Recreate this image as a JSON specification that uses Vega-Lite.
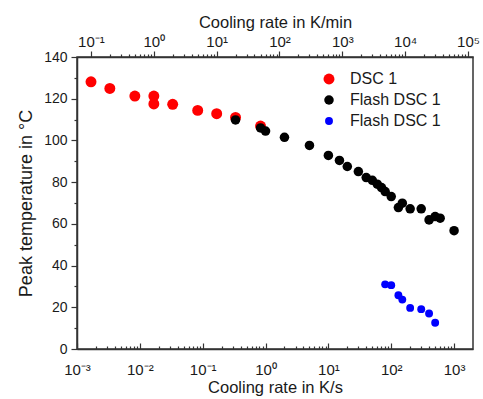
{
  "$schema": "https://vega.github.io/schema/vega-lite/v6.json",
  "width": 396,
  "height": 292,
  "autosize": {"type": "none"},
  "padding": {"left": 77, "top": 57, "right": 10, "bottom": 50},
  "background": "white",
  "config": {
    "font": "Liberation Sans",
    "view": {"stroke": "#333333", "strokeWidth": 1.5},
    "axis": {
      "grid": false,
      "domainColor": "#333333",
      "domainWidth": 1.5,
      "tickColor": "#333333",
      "tickWidth": 1.2,
      "labelColor": "#1a1a1a",
      "titleColor": "#1a1a1a",
      "titleFontWeight": "normal",
      "labelOverlap": false,
      "labelBound": false,
      "labelFlush": false
    }
  },
  "layer": [
    {
      "data": {
        "values": [
          {"series": "DSC 1", "rate": 0.00167, "temp": 128.1},
          {"series": "DSC 1", "rate": 0.00333, "temp": 124.9},
          {"series": "DSC 1", "rate": 0.00833, "temp": 121.3},
          {"series": "DSC 1", "rate": 0.0167, "temp": 121.3},
          {"series": "DSC 1", "rate": 0.0167, "temp": 117.5},
          {"series": "DSC 1", "rate": 0.0333, "temp": 117.3},
          {"series": "DSC 1", "rate": 0.0833, "temp": 114.4},
          {"series": "DSC 1", "rate": 0.167, "temp": 112.8},
          {"series": "DSC 1", "rate": 0.333, "temp": 111.0},
          {"series": "DSC 1", "rate": 0.833, "temp": 106.9},
          {"series": "Flash DSC 1", "rate": 0.333, "temp": 109.8},
          {"series": "Flash DSC 1", "rate": 0.833, "temp": 106.0},
          {"series": "Flash DSC 1", "rate": 1, "temp": 104.5},
          {"series": "Flash DSC 1", "rate": 2, "temp": 101.5},
          {"series": "Flash DSC 1", "rate": 5, "temp": 97.6},
          {"series": "Flash DSC 1", "rate": 10, "temp": 92.8},
          {"series": "Flash DSC 1", "rate": 15, "temp": 90.4},
          {"series": "Flash DSC 1", "rate": 20, "temp": 87.5},
          {"series": "Flash DSC 1", "rate": 30, "temp": 85.1},
          {"series": "Flash DSC 1", "rate": 40, "temp": 82.2},
          {"series": "Flash DSC 1", "rate": 50, "temp": 80.9},
          {"series": "Flash DSC 1", "rate": 60, "temp": 79.0},
          {"series": "Flash DSC 1", "rate": 70, "temp": 77.4},
          {"series": "Flash DSC 1", "rate": 80, "temp": 75.5},
          {"series": "Flash DSC 1", "rate": 100, "temp": 73.1},
          {"series": "Flash DSC 1", "rate": 130, "temp": 67.8},
          {"series": "Flash DSC 1", "rate": 150, "temp": 69.9},
          {"series": "Flash DSC 1", "rate": 200, "temp": 67.2},
          {"series": "Flash DSC 1", "rate": 300, "temp": 67.2},
          {"series": "Flash DSC 1", "rate": 400, "temp": 61.9},
          {"series": "Flash DSC 1", "rate": 500, "temp": 63.5},
          {"series": "Flash DSC 1", "rate": 600, "temp": 62.7},
          {"series": "Flash DSC 1", "rate": 1000, "temp": 56.7},
          {"series": "Flash DSC 1 ", "rate": 80, "temp": 31.0},
          {"series": "Flash DSC 1 ", "rate": 100, "temp": 30.6},
          {"series": "Flash DSC 1 ", "rate": 130, "temp": 25.8},
          {"series": "Flash DSC 1 ", "rate": 150, "temp": 23.7},
          {"series": "Flash DSC 1 ", "rate": 200, "temp": 19.7},
          {"series": "Flash DSC 1 ", "rate": 300, "temp": 19.1},
          {"series": "Flash DSC 1 ", "rate": 400, "temp": 17.0},
          {"series": "Flash DSC 1 ", "rate": 500, "temp": 12.6}
        ]
      },
      "mark": {"type": "circle", "opacity": 1},
      "encoding": {
        "x": {
          "field": "rate",
          "type": "quantitative",
          "scale": {"type": "log", "domain": [0.001, 2000], "nice": false},
          "axis": {
            "orient": "bottom",
            "title": "Cooling rate in K/s",
            "titleFontSize": 16.5,
            "titleBaseline": "top",
            "titleY": 30,
            "labelFontSize": 15,
            "labelPadding": 19,
            "values": [0.001, 0.002, 0.003, 0.004, 0.005, 0.006, 0.007, 0.008, 0.009,
                       0.01, 0.02, 0.03, 0.04, 0.05, 0.06, 0.07, 0.08, 0.09,
                       0.1, 0.2, 0.3, 0.4, 0.5, 0.6, 0.7, 0.8, 0.9,
                       1, 2, 3, 4, 5, 6, 7, 8, 9,
                       10, 20, 30, 40, 50, 60, 70, 80, 90,
                       100, 200, 300, 400, 500, 600, 700, 800, 900, 1000],
            "labelExpr": "abs(log(datum.value)/LN10 - round(log(datum.value)/LN10)) < 0.001 ? '10' + ['⁻³','⁻²','⁻¹','⁰','¹','²','³','⁴','⁵'][round(log(datum.value)/LN10) + 3] : ''",
            "tickSize": {
              "condition": {"test": "abs(log(datum.value)/LN10 - round(log(datum.value)/LN10)) < 0.001", "value": -6},
              "value": -3
            }
          }
        },
        "y": {
          "field": "temp",
          "type": "quantitative",
          "scale": {"domain": [0, 140], "nice": false},
          "axis": {
            "title": "Peak temperature in °C",
            "titleFontSize": 18,
            "titlePadding": 8,
            "labelFontSize": 14,
            "labelPadding": 4,
            "values": [0, 10, 20, 30, 40, 50, 60, 70, 80, 90, 100, 110, 120, 130, 140],
            "labelExpr": "datum.value % 20 == 0 ? datum.label : ''",
            "tickSize": {
              "condition": {"test": "datum.value % 20 == 0", "value": 6},
              "value": 3
            }
          }
        },
        "color": {
          "field": "series",
          "type": "nominal",
          "scale": {
            "domain": ["DSC 1", "Flash DSC 1", "Flash DSC 1 "],
            "range": ["#ff0000", "#000000", "#0000ff"]
          },
          "legend": {
            "title": null,
            "orient": "none",
            "legendX": 244,
            "legendY": 14,
            "padding": 0,
            "labelFontSize": 16,
            "labelColor": "#1a1a1a",
            "labelOffset": 13,
            "rowPadding": 5,
            "symbolStrokeWidth": 0
          }
        },
        "size": {
          "field": "series",
          "type": "nominal",
          "scale": {
            "domain": ["DSC 1", "Flash DSC 1", "Flash DSC 1 "],
            "range": [120, 62, 52]
          },
          "legend": {
            "title": null,
            "orient": "none",
            "legendX": 244,
            "legendY": 14
          }
        }
      }
    },
    {
      "data": {"values": [{"rate_min": 1}]},
      "mark": {"type": "point", "opacity": 0},
      "encoding": {
        "x": {
          "field": "rate_min",
          "type": "quantitative",
          "scale": {"type": "log", "domain": [0.06, 120000], "nice": false},
          "axis": {
            "orient": "top",
            "title": "Cooling rate in K/min",
            "titleFontSize": 16.5,
            "titlePadding": 4,
            "labelFontSize": 15,
            "labelPadding": 2,
            "values": [0.1, 0.2, 0.3, 0.4, 0.5, 0.6, 0.7, 0.8, 0.9,
                       1, 2, 3, 4, 5, 6, 7, 8, 9,
                       10, 20, 30, 40, 50, 60, 70, 80, 90,
                       100, 200, 300, 400, 500, 600, 700, 800, 900,
                       1000, 2000, 3000, 4000, 5000, 6000, 7000, 8000, 9000,
                       10000, 20000, 30000, 40000, 50000, 60000, 70000, 80000, 90000, 100000],
            "labelExpr": "abs(log(datum.value)/LN10 - round(log(datum.value)/LN10)) < 0.001 ? '10' + ['⁻³','⁻²','⁻¹','⁰','¹','²','³','⁴','⁵'][round(log(datum.value)/LN10) + 3] : ''",
            "tickSize": {
              "condition": {"test": "abs(log(datum.value)/LN10 - round(log(datum.value)/LN10)) < 0.001", "value": 6},
              "value": 3
            }
          }
        }
      }
    }
  ],
  "resolve": {"scale": {"x": "independent"}}
}
